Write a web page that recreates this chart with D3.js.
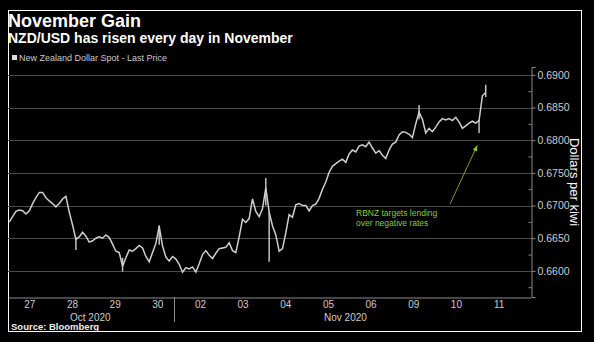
<!DOCTYPE html>
<html>
<head>
<meta charset="utf-8">
<script src="https://cdn.jsdelivr.net/npm/d3@7"></script>
<style>
  html, body { margin: 0; padding: 0; background: #000; }
  svg { display: block; }
  text { font-family: "Liberation Sans", Arial, sans-serif; }
</style>
</head>
<body>
<svg id="chart" width="594" height="342"></svg>
<script>
// ---- data ----
const title = "November Gain";
const subtitle = "NZD/USD has risen every day in November";
const legendLabel = "New Zealand Dollar Spot - Last Price";
const source = "Source: Bloomberg";
const yTitle = "Dollars per kiwi";
const annotation = ["RBNZ targets lending", "over negative rates"];

const dayLabels = ["27", "28", "29", "30", "02", "03", "04", "05", "06", "09", "10", "11"];
const monthLabels = ["Oct 2020", "Nov 2020"];
const monthCenters = [1.93, 7.91];   // trading-day units
const monthBreak = 3.9;              // Oct / Nov boundary, trading-day units

const yMajorTicks = [0.6600, 0.6650, 0.6700, 0.6750, 0.6800, 0.6850, 0.6900];
const yMinorTicks = [0.6575, 0.6625, 0.6675, 0.6725, 0.6775, 0.6825, 0.6875];

// price samples, evenly spaced in time (trading days) from startDay by stepDays
const startDay = 0.03;
const stepDays = 0.0781;
const price = [
  0.6675, 0.6683, 0.6691, 0.6693, 0.6692, 0.6687, 0.6692, 0.6703, 0.6712, 0.6720,
  0.6720, 0.6712, 0.6707, 0.6703, 0.6698, 0.6703, 0.6710, 0.6714, 0.6690, 0.6670,
  0.6648, 0.6652, 0.6659, 0.6653, 0.6644, 0.6646, 0.6650, 0.6652, 0.6650, 0.6655,
  0.6651, 0.6641, 0.6630, 0.6628, 0.6607, 0.6620, 0.6632, 0.6630, 0.6634, 0.6639,
  0.6635, 0.6622, 0.6614, 0.6628, 0.6642, 0.6668, 0.6638, 0.6621, 0.6615, 0.6622,
  0.6618, 0.6610, 0.6598, 0.6605, 0.6603, 0.6606, 0.6598, 0.6611, 0.6625, 0.6631,
  0.6624, 0.6619, 0.6627, 0.6634, 0.6635, 0.6636, 0.6643, 0.6631, 0.6628, 0.6652,
  0.6679, 0.6674, 0.6680, 0.6710, 0.6691, 0.6683, 0.6695, 0.6727, 0.6690, 0.6669,
  0.6655, 0.6630, 0.6634, 0.6658, 0.6686, 0.6682, 0.6701, 0.6703, 0.6700, 0.6700,
  0.6692, 0.6700, 0.6702, 0.6711, 0.6725, 0.6736, 0.6751, 0.6760, 0.6764, 0.6768,
  0.6771, 0.6766, 0.6779, 0.6785, 0.6782, 0.6791, 0.6793, 0.6790, 0.6797, 0.6788,
  0.6780, 0.6784, 0.6777, 0.6772, 0.6785, 0.6794, 0.6797, 0.6808, 0.6813, 0.6812,
  0.6809, 0.6804, 0.6825, 0.6843, 0.6832, 0.6811, 0.6818, 0.6813, 0.6820, 0.6828,
  0.6833, 0.6831, 0.6833, 0.6830, 0.6835, 0.6828, 0.6818, 0.6822, 0.6826, 0.6829,
  0.6826, 0.6830, 0.6868, 0.6873
];
// intraday extremes: [sample index, low, high]
const wicks = [
  [20, 0.6632, 0.6652],
  [34, 0.6599, 0.6620],
  [45, 0.6640, 0.6670],
  [77, 0.6700, 0.6742],
  [78, 0.6614, 0.6690],
  [123, 0.6832, 0.6854],
  [141, 0.6811, 0.6831],
  [143, 0.6866, 0.6885]
];
// annotation arrow: from [day, value] to [day, value]
const arrowFrom = [10.36, 0.6702];
const arrowTo = [11.0, 0.6792];

// ---- drawing ----
const svg = d3.select("#chart");
const W = 594, H = 342;
const plot = { left: 8, right: 531, top: 67, bottom: 297 };

const x = d3.scaleLinear().domain([0, 12.26]).range([plot.left, plot.right]);
const y = d3.scaleLinear().domain([0.6560, 0.6912]).range([plot.bottom, plot.top]);

svg.append("rect").attr("width", W).attr("height", H).attr("fill", "#000");

// frame
svg.append("rect")
  .attr("x", 8.5).attr("y", 10.5).attr("width", 573).attr("height", 321)
  .attr("fill", "none").attr("stroke", "#fff").attr("stroke-width", 1);

// titles
svg.append("text").attr("x", 8).attr("y", 27)
  .attr("font-size", 18).attr("font-weight", "bold").attr("fill", "#fff").text(title);
svg.append("text").attr("x", 8).attr("y", 43)
  .attr("font-size", 14).attr("font-weight", "bold").attr("fill", "#fff").text(subtitle);

// legend
svg.append("rect").attr("x", 12).attr("y", 55).attr("width", 5).attr("height", 5).attr("fill", "#ddd");
svg.append("text").attr("x", 19).attr("y", 61)
  .attr("font-size", 9).attr("fill", "#ccc").text(legendLabel);

// gridlines
svg.append("g").selectAll("line").data(yMajorTicks).join("line")
  .attr("x1", plot.left).attr("x2", plot.right)
  .attr("y1", d => Math.round(y(d)) + 0.5).attr("y2", d => Math.round(y(d)) + 0.5)
  .attr("stroke", "#4a4a4a").attr("stroke-width", 1);

// right axis (major, labelled)
const yAxis = d3.axisRight(y).tickValues(yMajorTicks).tickSize(4).tickPadding(2)
  .tickFormat(d3.format(".4f"));
const gy = svg.append("g").attr("transform", `translate(${plot.right + 0.5},0)`).call(yAxis);
gy.select(".domain").attr("stroke", "#8a8a8a");
gy.selectAll(".tick line").attr("stroke", "#8a8a8a");
gy.selectAll(".tick text").attr("fill", "#ccc").attr("font-size", 10.5)
  .attr("font-family", "Liberation Sans, Arial, sans-serif");

// right axis (minor, inward)
const yMinor = d3.axisRight(y).tickValues(yMinorTicks).tickSize(-3).tickFormat("");
const gym = svg.append("g").attr("transform", `translate(${plot.right + 0.5},0)`).call(yMinor);
gym.select(".domain").remove();
gym.selectAll(".tick line").attr("stroke", "#8a8a8a");

// bottom axis
const xAxis = d3.axisBottom(x)
  .tickValues(dayLabels.map((d, i) => i + 0.5))
  .tickSize(0).tickPadding(3)
  .tickFormat((d, i) => dayLabels[i]);
const gx = svg.append("g").attr("transform", `translate(0,${plot.bottom + 0.5})`).call(xAxis);
gx.select(".domain").attr("stroke", "#8a8a8a");
gx.selectAll(".tick text").attr("fill", "#ccc").attr("font-size", 10)
  .attr("font-family", "Liberation Sans, Arial, sans-serif");

// month separator and labels
svg.append("line")
  .attr("x1", Math.round(x(monthBreak)) + 0.5).attr("x2", Math.round(x(monthBreak)) + 0.5)
  .attr("y1", plot.bottom).attr("y2", 322)
  .attr("stroke", "#8a8a8a");
svg.append("g").selectAll("text").data(monthLabels).join("text")
  .attr("x", (d, i) => x(monthCenters[i])).attr("y", 320.5)
  .attr("text-anchor", "middle").attr("font-size", 10).attr("fill", "#ccc")
  .text(d => d);

// y title
svg.append("text")
  .attr("transform", `translate(570,182) rotate(90)`)
  .attr("text-anchor", "middle").attr("font-size", 13).attr("fill", "#fff")
  .text(yTitle);

// source
svg.append("text").attr("x", 11).attr("y", 330)
  .attr("font-size", 9.5).attr("font-weight", "bold").attr("fill", "#eee").text(source);

// price line
const tOf = i => startDay + i * stepDays;
const line = d3.line().x((d, i) => x(tOf(i))).y(d => y(d));
svg.append("path").datum(price)
  .attr("d", line).attr("fill", "none")
  .attr("stroke", "#cfcfcf").attr("stroke-width", 1.5).attr("stroke-linejoin", "miter");

// wicks
svg.append("g").selectAll("line").data(wicks).join("line")
  .attr("x1", d => x(tOf(d[0]))).attr("x2", d => x(tOf(d[0])))
  .attr("y1", d => y(d[1])).attr("y2", d => y(d[2]))
  .attr("stroke", "#cfcfcf").attr("stroke-width", 1.4);

// annotation
const green = "#8dc63f";
const ax1 = x(arrowFrom[0]), ay1 = y(arrowFrom[1]);
const ax2 = x(arrowTo[0]), ay2 = y(arrowTo[1]);
svg.append("line").attr("x1", ax1).attr("y1", ay1).attr("x2", ax2).attr("y2", ay2)
  .attr("stroke", green).attr("stroke-width", 0.8);
const ang = Math.atan2(ay2 - ay1, ax2 - ax1);
const hl = 6, hw = 0.4;
svg.append("path")
  .attr("d", `M${ax2},${ay2} L${ax2 - hl * Math.cos(ang - hw)},${ay2 - hl * Math.sin(ang - hw)} L${ax2 - hl * Math.cos(ang + hw)},${ay2 - hl * Math.sin(ang + hw)} Z`)
  .attr("fill", green);
svg.append("g").selectAll("text").data(annotation).join("text")
  .attr("x", 356).attr("y", (d, i) => 216 + i * 10)
  .attr("font-size", 8.5).attr("fill", green).text(d => d);
</script>
</body>
</html>
